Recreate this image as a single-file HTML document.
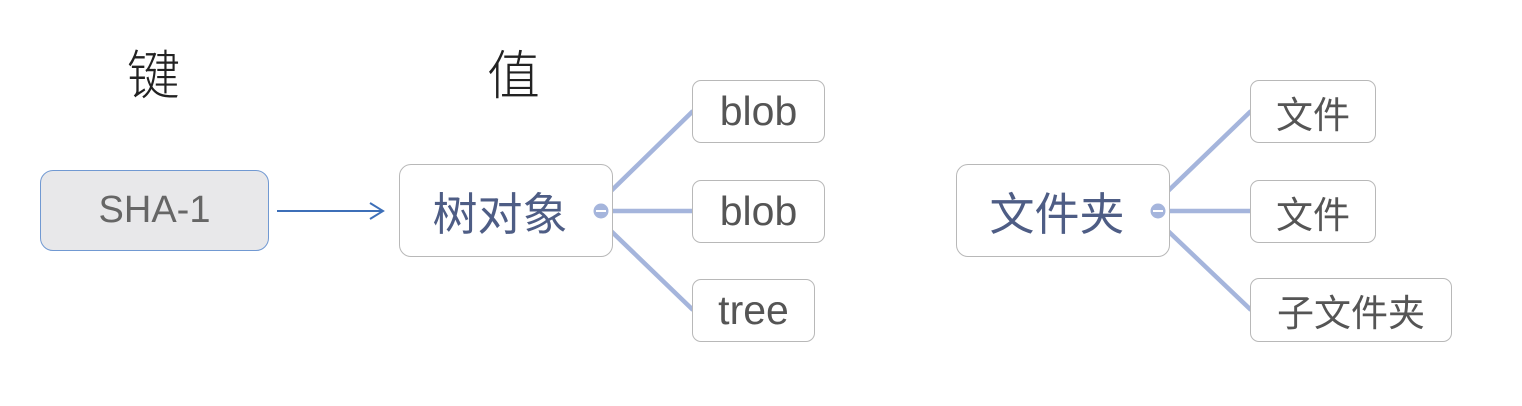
<!DOCTYPE html>
<html><head><meta charset="utf-8"><style>
html,body{margin:0;padding:0;background:#fff;width:1522px;height:406px;overflow:hidden;position:relative}
.b{position:absolute;box-sizing:border-box;display:flex;align-items:center;justify-content:center;font-family:"Liberation Sans","Noto Sans CJK SC",sans-serif;}
.c{border:1.5px solid #b8b8b8;border-radius:9px;background:#fff;color:#555;font-size:37px}
.e{font-size:41px}
.m{border:1.5px solid #b8b8b8;border-radius:12px;background:#fff;color:#4e5d85;font-size:45px}
.t{position:absolute;font-family:"Noto Sans CJK SC",sans-serif;font-size:53px;color:#222;line-height:1;font-weight:300}
</style></head><body>
<svg width="1522" height="406" style="position:absolute;left:0;top:0">
<g stroke="#a5b5dc" stroke-width="4.5" fill="none">
<line x1="610" y1="192" x2="693" y2="111"/>
<line x1="610" y1="211" x2="693" y2="211"/>
<line x1="610" y1="230" x2="693" y2="310"/>
<line x1="1167" y1="192" x2="1251" y2="111"/>
<line x1="1167" y1="211" x2="1251" y2="211"/>
<line x1="1167" y1="230" x2="1251" y2="310"/>
</g>
<line x1="277" y1="211" x2="382" y2="211" stroke="#3d6fb8" stroke-width="2"/>
<polyline points="370,203 383,211 370,219" stroke="#3d6fb8" stroke-width="2" fill="none"/>
</svg>
<div class="t" style="left:127px;top:46px">键</div>
<div class="t" style="left:487px;top:46px">值</div>
<div class="b" style="left:40px;top:170px;width:229px;height:81px;border:1.5px solid #7199d2;border-radius:13px;background:#e8e8ea;color:#666;font-size:38px">SHA-1</div>
<div class="b m" style="left:399px;top:164px;width:214px;height:93px;padding-right:12px">树对象</div>
<div class="b m" style="left:956px;top:164px;width:214px;height:93px;padding-right:12px">文件夹</div>
<svg width="1522" height="406" style="position:absolute;left:0;top:0">
<circle cx="601" cy="211" r="7.5" fill="#a5b5dc"/><line x1="596" y1="211" x2="606" y2="211" stroke="#fff" stroke-width="2"/>
<circle cx="1158" cy="211" r="7.5" fill="#a5b5dc"/><line x1="1153" y1="211" x2="1163" y2="211" stroke="#fff" stroke-width="2"/>
</svg>
<div class="b c e" style="left:692px;top:80px;width:133px;height:63px">blob</div>
<div class="b c e" style="left:692px;top:180px;width:133px;height:63px">blob</div>
<div class="b c e" style="left:692px;top:279px;width:123px;height:63px">tree</div>
<div class="b c" style="left:1250px;top:80px;width:126px;height:63px">文件</div>
<div class="b c" style="left:1250px;top:180px;width:126px;height:63px">文件</div>
<div class="b c" style="left:1250px;top:278px;width:202px;height:64px">子文件夹</div>
</body></html>
